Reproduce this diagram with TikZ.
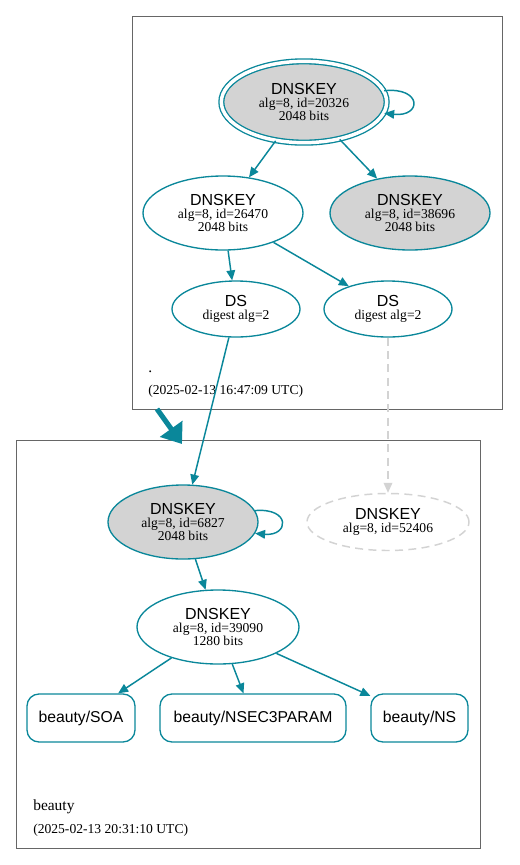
\documentclass[tikz,border=0pt]{standalone}
\usepackage{fontspec}
\setmainfont{Liberation Serif}
\setsansfont{Liberation Sans}
\usepackage{tikz}
\usetikzlibrary{arrows.meta,shapes.geometric}
\definecolor{dnsteal}{RGB}{10,135,154}
\definecolor{keygray}{RGB}{211,211,211}
\tikzset{
  keynode/.style={ellipse,draw=dnsteal,line width=1pt,inner sep=0pt,align=center,
    font=\rmfamily\fontsize{10.2}{10}\selectfont},
  rrnode/.style={rectangle,rounded corners=9pt,draw=dnsteal,line width=1pt,
    minimum height=36pt,inner sep=0pt,font=\sffamily\fontsize{11.8}{13}\selectfont},
  edge/.style={draw=dnsteal,line width=1.1pt,-{Triangle[length=7.5pt,width=6.5pt]}},
  missing/.style={draw=keygray,dash pattern=on 6pt off 4pt},
  zonebox/.style={draw=black!60,line width=0.75pt},
  zonetext/.style={anchor=base west,inner sep=0pt,font=\rmfamily\fontsize{10.2}{12}\selectfont}
}
\newcommand{\kname}[1]{{\sffamily\fontsize{12}{10}\selectfont #1}}
\begin{document}
\begin{tikzpicture}[x=0.75pt,y=-0.75pt]
  \useasboundingbox (0,0) rectangle (519,865);
  \draw[zonebox] (132,16) rectangle (502,409);
  \draw[zonebox] (16,440) rectangle (480,848);

  \node[keynode,fill=keygray,double=white,double distance=2.6pt,
    minimum width=124pt,minimum height=61pt] (k20326) at (304,102)
    {\kname{DNSKEY}\\alg=8, id=20326\\2048 bits};
  \node[keynode,minimum width=120pt,minimum height=55.5pt] (k26470) at (223,213)
    {\kname{DNSKEY}\\alg=8, id=26470\\2048 bits};
  \node[keynode,fill=keygray,minimum width=120pt,minimum height=55.5pt] (k38696) at (410,213)
    {\kname{DNSKEY}\\alg=8, id=38696\\2048 bits};
  \node[keynode,minimum width=96pt,minimum height=42pt] (dsa) at (236,309)
    {\kname{DS}\\digest alg=2};
  \node[keynode,minimum width=96pt,minimum height=42pt] (dsb) at (388,309)
    {\kname{DS}\\digest alg=2};
  \node[zonetext,font=\rmfamily\fontsize{11.6}{12}\selectfont] (rootname) at (148,372) {.};
  \node[zonetext] (roottime) at (148,394) {(2025-02-13 16:47:09 UTC)};

  \node[keynode,fill=keygray,minimum width=112.5pt,minimum height=55.5pt] (k6827) at (183,522)
    {\kname{DNSKEY}\\alg=8, id=6827\\2048 bits};
  \node[keynode,missing,line width=1.1pt,minimum width=121.5pt,minimum height=42.75pt] (k52406) at (388,522)
    {\kname{DNSKEY}\\alg=8, id=52406};
  \node[keynode,minimum width=121.5pt,minimum height=55.5pt] (k39090) at (218,627)
    {\kname{DNSKEY}\\alg=8, id=39090\\1280 bits};
  \foreach \nm/\x/\w/\lbl in {soa/81/81pt/SOA,nsec/253/139.5pt/NSEC3PARAM,ns/419.5/72.75pt/NS} {
    \node[rrnode,minimum width=\w] (\nm) at (\x,718) {beauty/\lbl};
  }
  \node[zonetext,font=\rmfamily\fontsize{11.6}{12}\selectfont] (zonename) at (33,810) {beauty};
  \node[zonetext] (zonetime) at (33,833) {(2025-02-13 20:31:10 UTC)};

  \draw[edge] (k20326.8) .. controls +(38,-4) and +(38,4) .. (k20326.-8);
  \draw[edge] (k20326) -- (k26470);
  \draw[edge] (k20326) -- (k38696);
  \draw[edge] (k26470) -- (dsa);
  \draw[edge] (k26470) -- (dsb);
  \draw[edge] (dsa) -- (k6827);
  \draw[edge,missing] (dsb) -- (k52406);
  \draw[edge] (k6827.9) .. controls +(36,-3) and +(34,3) .. (k6827.-9);
  \draw[edge] (k6827) -- (k39090);
  \foreach \nm in {soa,nsec,ns} {
    \draw[edge] (k39090) -- (\nm);
  }

  \coordinate (zonetail) at (157,409);
  \coordinate (zonehead) at (182,444);
  \draw[draw=dnsteal,line width=3.8pt,-{Triangle[length=14pt,width=20pt]}] (zonetail) -- (zonehead);
\end{tikzpicture}
\end{document}
